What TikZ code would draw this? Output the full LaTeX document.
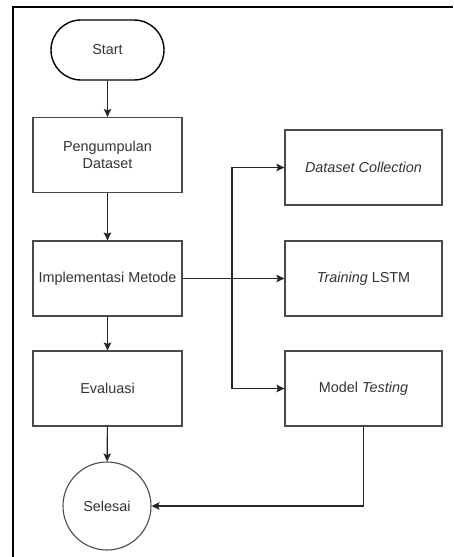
\documentclass[tikz,border=0pt]{standalone}
\usepackage{fontspec}
\setmainfont{Liberation Sans}
\usetikzlibrary{arrows.meta,positioning}
\definecolor{ink}{HTML}{333333}
\definecolor{edge}{HTML}{4A4A4A}
\tikzset{
  every node/.style={font=\fontsize{14.4}{17}\selectfont, text=ink},
  procbox/.style={draw=edge, line width=1.2pt, rectangle, minimum width=149pt, minimum height=75pt, align=center, inner sep=0pt},
  sidebox/.style={draw=edge, line width=1.2pt, rectangle, minimum width=157pt, minimum height=75pt, align=center, inner sep=0pt},
  terminal/.style={draw=black, line width=1.4pt, rectangle, rounded corners=30pt, minimum width=113pt, minimum height=60pt, inner sep=0pt},
  endcircle/.style={draw=edge, line width=1.1pt, circle, minimum size=88pt, inner sep=0pt},
  flow/.style={draw=black!85, line width=1.1pt, -{Stealth[length=8pt,width=7.5pt,inset=1.5pt]}},
  frame/.style={draw=black, line width=2pt}
}
\begin{document}
\begin{tikzpicture}[x=1pt,y=-1pt]
  \useasboundingbox (0,0) rectangle (453,557);
  % outer frame: top and left edges only
  \draw[frame] (13,557) -- (13,7) -- (453,7);

  % main column
  \node[terminal] (start) at (107.5,50) {Start};
  \node[procbox] (pd) at (107.5,155) {Pengumpulan\\Dataset};
  \node[procbox] (im) at (107.5,278.5) {Implementasi Metode};
  \node[procbox] (ev) at (107.5,388.5) {Evaluasi};
  \node[endcircle] (sel) at (107,506) {Selesai};

  % method steps
  \node[sidebox] (dc) at (363.5,167.5) {\textit{Dataset Collection}};
  \node[sidebox] (tr) at (363.5,278.5) {\textit{Training} LSTM};
  \node[sidebox] (mt) at (363.5,388.5) {Model \textit{Testing}};

  % branch point of the method steps
  \coordinate (split) at (232,278.5);

  % connectors
  \draw[flow] (start) -- (pd);
  \draw[flow] (pd) -- (im);
  \draw[flow] (im) -- (ev);
  \draw[flow] (ev) -- (sel);
  \draw[flow] (im.east) -- (tr.west);
  \draw[flow] (split) |- (dc.west);
  \draw[flow] (split) |- (mt.west);
  \draw[flow] (mt.south) |- (sel.east);
\end{tikzpicture}
\end{document}
